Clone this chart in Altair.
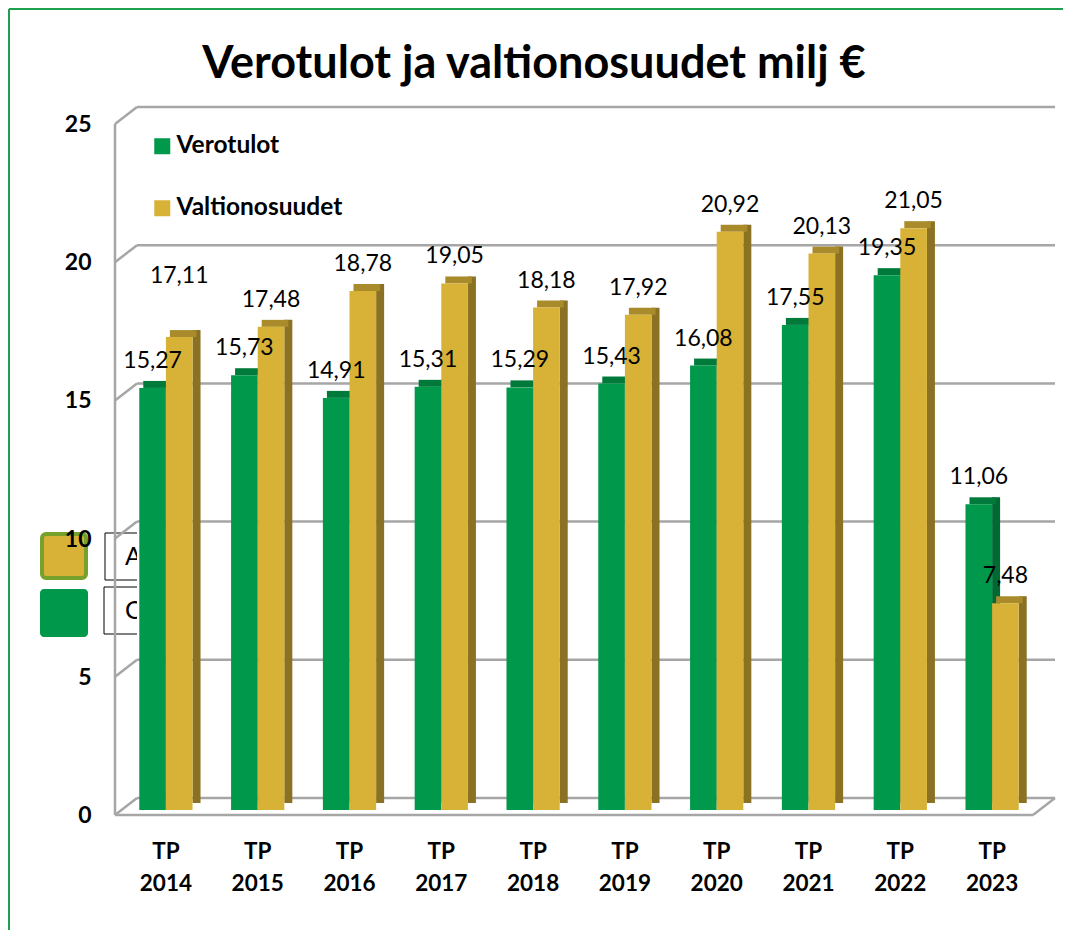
import altair as alt
import pandas as pd

# ---- data ----
years = ["TP 2014", "TP 2015", "TP 2016", "TP 2017", "TP 2018",
         "TP 2019", "TP 2020", "TP 2021", "TP 2022", "TP 2023"]
verotulot = [15.27, 15.73, 14.91, 15.31, 15.29, 15.43, 16.08, 17.55, 19.35, 11.06]
valtionosuudet = [17.11, 17.48, 18.78, 19.05, 18.18, 17.92, 20.92, 20.13, 21.05, 7.48]
series_names = ["Verotulot", "Valtionosuudet"]
y_ticks = [0, 5, 10, 15, 20, 25]
title_text = "Verotulot ja valtionosuudet milj €"

rows = []
for i, yr in enumerate(years):
    rows.append({"year": yr, "series": series_names[0], "value": verotulot[i]})
    rows.append({"year": yr, "series": series_names[1], "value": valtionosuudet[i]})
df = pd.DataFrame(rows)
ticks_df = pd.DataFrame({"v": y_ticks})
one = pd.DataFrame({"k": [0]})

# ---- style ----
W, H = 918, 691
PAD_IN, PAD_OUT = 0.42, 0.21
STEP = W / (len(years) - PAD_IN + 2 * PAD_OUT)
BAR = STEP * (1 - PAD_IN) / 2          # width of one bar (two bars per group)
DX, DY = 8, 7                           # 3D depth of bars
FONT = "Lato"
FRONT = ["#00984a", "#d7b236"]
SIDE = ["#006a32", "#8a7124"]
TOPC = ["#007a3a", "#a98b2b"]
GRID = "#a6a6a6"
FRAME = "#1fa04f"

yscale = alt.Scale(domain=[0, 25], nice=False, zero=True)
yaxis = alt.Axis(values=y_ticks, title=None, domain=False, ticks=False, grid=False,
                 labelFont=FONT, labelFontWeight="bold", labelFontSize=23,
                 labelColor="black", labelPadding=29, labelOffset=5.5, zindex=1)
xenc = alt.X("year:N", sort=years,
             scale=alt.Scale(domain=years, paddingInner=PAD_IN, paddingOuter=PAD_OUT),
             axis=alt.Axis(title=None, domain=False, ticks=False, labelAngle=0,
                           labelExpr="split(datum.label, ' ')",
                           labelFont=FONT, labelFontWeight="bold", labelFontSize=22.5,
                           labelColor="black", labelLineHeight=32, labelPadding=30,
                           labelBaseline="top"))
yval = alt.Y("value:Q", scale=yscale, axis=yaxis)

# ---- decorations (frame, title, stray legend fragments at the left) ----
base1 = alt.Chart(one)
frame_top = base1.mark_rule(color=FRAME, strokeWidth=2).encode(
    x=alt.value(-111), x2=alt.value(943), y=alt.value(-110))
frame_left = base1.mark_rule(color=FRAME, strokeWidth=2).encode(
    x=alt.value(-111), y=alt.value(-110), y2=alt.value(811))
title = base1.mark_text(font=FONT, fontSize=45, fontWeight="bold", color="black",
                        align="center", baseline="alphabetic").encode(
    x=alt.value(414), y=alt.value(-41), text=alt.value(title_text))
gold_sq = base1.mark_rect(cornerRadius=4, fill=FRONT[1], stroke="#77a12d", strokeWidth=4).encode(
    x=alt.value(-78), x2=alt.value(-34), y=alt.value(415), y2=alt.value(459))
green_sq = base1.mark_rect(cornerRadius=4, fill=FRONT[0]).encode(
    x=alt.value(-80), x2=alt.value(-32), y=alt.value(470), y2=alt.value(518))
box1 = base1.mark_rect(fill="white", stroke="black", strokeWidth=1).encode(
    x=alt.value(-15), x2=alt.value(40), y=alt.value(414), y2=alt.value(461))
box2 = base1.mark_rect(fill="white", stroke="black", strokeWidth=1).encode(
    x=alt.value(-16), x2=alt.value(40), y=alt.value(468), y2=alt.value(515))
txtA = base1.mark_text(font=FONT, fontSize=25, align="left", baseline="middle").encode(
    x=alt.value(5), y=alt.value(438), text=alt.value("A"))
txtC = base1.mark_text(font=FONT, fontSize=25, align="left", baseline="middle").encode(
    x=alt.value(5), y=alt.value(492), text=alt.value("C"))
cover = base1.mark_rect(fill="white").encode(
    x=alt.value(17), x2=alt.value(120), y=alt.value(400), y2=alt.value(530))

# ---- 3D walls ----
tb = alt.Chart(ticks_df)
back_grid = tb.mark_rule(color=GRID, strokeWidth=2.5, yOffset=-12).encode(
    x=alt.value(17), x2=alt.value(935), y=alt.Y("v:Q", scale=yscale, axis=yaxis))
side_grid = tb.mark_rule(color=GRID, strokeWidth=2.5, yOffset=5, y2Offset=-12).encode(
    x=alt.value(-5), x2=alt.value(17), y=alt.Y("v:Q", scale=yscale, axis=yaxis), y2="v:Q")
front_vert = base1.mark_rule(color=GRID, strokeWidth=2.5).encode(
    x=alt.value(-5), y=alt.value(5), y2=alt.value(696))
front_floor = base1.mark_rule(color=GRID, strokeWidth=2.5).encode(
    x=alt.value(-5), x2=alt.value(913), y=alt.value(696))
floor_diag = base1.mark_rule(color=GRID, strokeWidth=2.5).encode(
    x=alt.value(913), x2=alt.value(935), y=alt.value(696), y2=alt.value(679))

# ---- bars (front face + top face + side face per series) ----
legend = alt.Legend(orient="none", legendX=30, legendY=15, title=None,
                    symbolType="square", symbolSize=256,
                    symbolStrokeWidth=0, symbolOpacity=1,
                    labelFont=FONT, labelFontSize=24.5, labelLimit=0,
                    labelFontWeight="bold", labelColor="black",
                    rowPadding=37, labelOffset=2, padding=0,
                    direction="vertical")
color_enc = alt.Color("series:N", sort=series_names,
                      scale=alt.Scale(domain=series_names, range=FRONT),
                      legend=legend)

bar_layers = []
label_layers = []
for j, s in enumerate(series_names):
    cx = (j - 0.5) * BAR
    bs = alt.Chart(df).transform_filter(alt.datum.series == s)
    side = bs.mark_bar(width=DX, xOffset=cx + BAR / 2 + DX / 2,
                       yOffset=-DY, y2Offset=-DY, color=SIDE[j]).encode(x=xenc, y=yval)
    topf = bs.mark_bar(width=BAR, xOffset=cx + DX / 2,
                       yOffset=-DY, y2Offset=0, color=TOPC[j]).encode(
        x=xenc, y=yval, y2="value:Q")
    front = bs.mark_bar(width=BAR, xOffset=cx).encode(x=xenc, y=yval, color=color_enc)
    bar_layers += [side, topf, front]

    lab = bs.transform_calculate(label="replace(format(datum.value, '.2f'), '.', ',')")
    special = alt.datum.year == years[0]
    if j == 1:
        normal = lab.transform_filter(~special)
        sp = lab.transform_filter(special).mark_text(
            font=FONT, fontSize=23, color="black", baseline="middle",
            dy=-61, xOffset=cx).encode(x=xenc, y=yval, text="label:N")
        label_layers.append(sp)
    else:
        normal = lab
    label_layers.append(normal.mark_text(
        font=FONT, fontSize=23, color="black", baseline="middle",
        dy=-27, xOffset=cx).encode(x=xenc, y=yval, text="label:N"))

chart = alt.layer(
    frame_top, frame_left, title, gold_sq, green_sq, box1, box2, txtA, txtC, cover,
    back_grid, side_grid, front_vert, front_floor, floor_diag,
    *bar_layers, *label_layers
).properties(
    width=W, height=H,
    padding={"left": 112, "top": 111, "right": 25, "bottom": 120},
    autosize=alt.AutoSizeParams(type="none"),
    background="white",
).configure_view(stroke=None)

chart.save("out.html", embed_options={"renderer": "svg", "actions": False})
